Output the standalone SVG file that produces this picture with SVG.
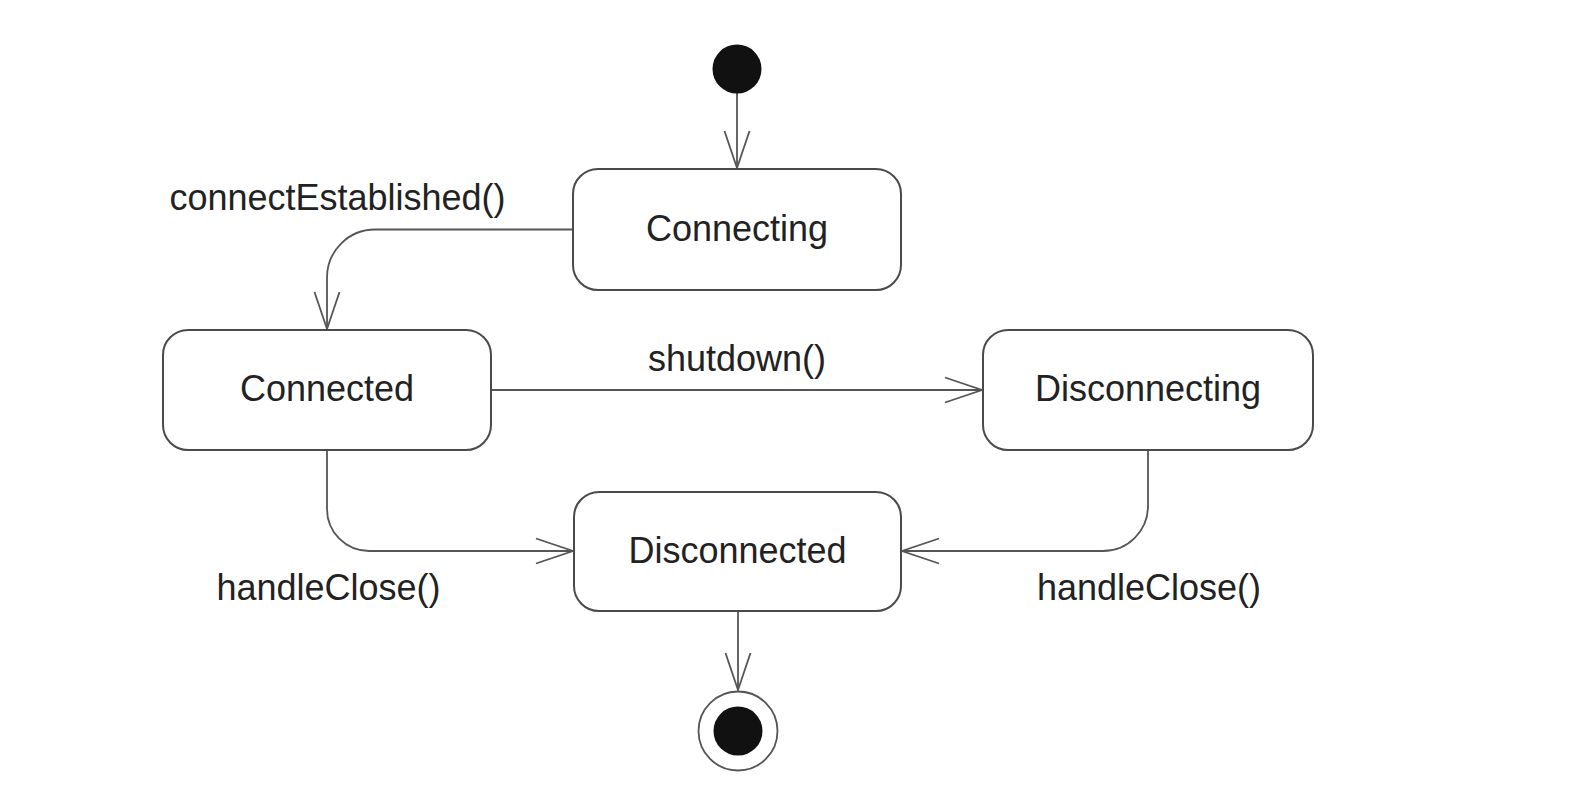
<svg xmlns="http://www.w3.org/2000/svg" width="1590" height="808" viewBox="0 0 1590 808">
  <style>
    .state { fill: #ffffff; stroke: #4a4a4a; stroke-width: 2; }
    .label { font-family: "Liberation Sans", Arial, sans-serif; font-size: 36px; fill: #222222; text-anchor: middle; }
    .edge { fill: none; stroke: #555555; stroke-width: 1.8; marker-end: url(#open); }
  </style>
  <defs>
    <marker id="open" markerUnits="userSpaceOnUse" viewBox="-40 -15 42 30" markerWidth="42" markerHeight="30" refX="0" refY="0" orient="auto" overflow="visible">
      <path d="M -37 -12.5 L 0 0 L -37 12.5" fill="none" stroke="#555555" stroke-width="1.8"/>
    </marker>
  </defs>
  <rect width="1590" height="808" fill="#ffffff"/>

  <g id="connectors">
    <path class="edge" d="M 737 93 L 737 168"/>
    <path class="edge" d="M 573 229.5 L 375 229.5 A 48 48 0 0 0 327 277.5 L 327 329"/>
    <path class="edge" d="M 491 390 L 982 390"/>
    <path class="edge" d="M 327 450 L 327 509 A 42 42 0 0 0 369 551 L 573 551"/>
    <path class="edge" d="M 1148 450 L 1148 506 A 45 45 0 0 1 1103 551 L 902 551"/>
    <path class="edge" d="M 738 611 L 738 690"/>
    <text class="label" x="337.5" y="210">connectEstablished()</text>
    <text class="label" x="737" y="371">shutdown()</text>
    <text class="label" x="328.5" y="600">handleClose()</text>
    <text class="label" x="1149" y="600">handleClose()</text>
  </g>

  <g id="initial">
    <circle cx="737" cy="69" r="24.5" fill="#111111"/>
  </g>

  <g id="connecting">
    <rect class="state" x="573" y="169" width="328" height="121" rx="25" ry="25"/>
    <text class="label" x="737" y="241">Connecting</text>
  </g>

  <g id="connected">
    <rect class="state" x="163" y="330" width="328" height="120" rx="25" ry="25"/>
    <text class="label" x="327" y="401">Connected</text>
  </g>

  <g id="disconnecting">
    <rect class="state" x="983" y="330" width="330" height="120" rx="25" ry="25"/>
    <text class="label" x="1148" y="401">Disconnecting</text>
  </g>

  <g id="disconnected">
    <rect class="state" x="574" y="492" width="327" height="119" rx="25" ry="25"/>
    <text class="label" x="737.5" y="563">Disconnected</text>
  </g>

  <g id="final">
    <circle cx="738" cy="731" r="39.5" fill="#ffffff" stroke="#555555" stroke-width="1.8"/>
    <circle cx="738" cy="731" r="24.5" fill="#111111"/>
  </g>
</svg>
